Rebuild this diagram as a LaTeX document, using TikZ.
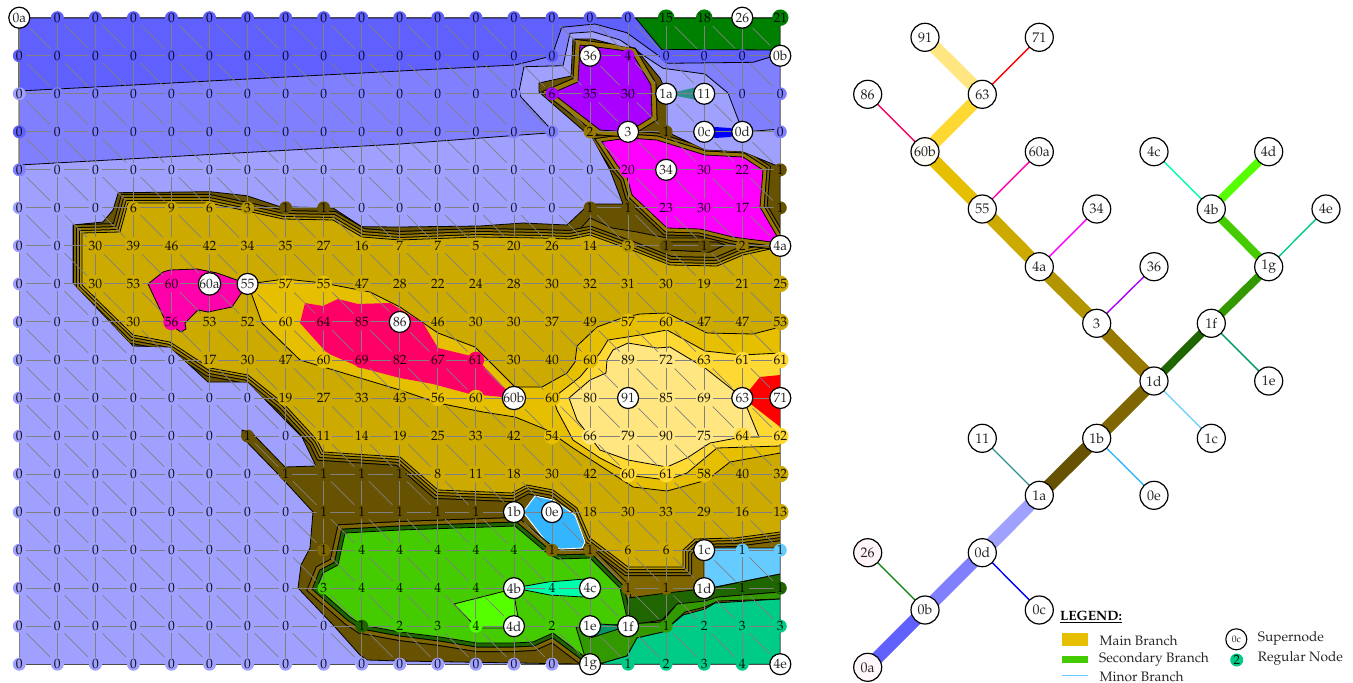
\documentclass[tikz,border=0pt]{standalone}
\usepackage[T1]{fontenc}
\usepackage{mathpazo}
\definecolor{ga}{HTML}{6060FF}\definecolor{gb}{HTML}{8080FF}\definecolor{gc}{HTML}{A0A0FF}
\definecolor{gd}{HTML}{665200}\definecolor{ge}{HTML}{806600}\definecolor{gf}{HTML}{997A00}
\definecolor{gh}{HTML}{B39500}\definecolor{gg}{HTML}{CCAA00}\definecolor{gi}{HTML}{E6BF00}
\definecolor{gj}{HTML}{FFD933}\definecolor{gk}{HTML}{FFE680}\definecolor{gm}{HTML}{FF00FF}
\definecolor{gp}{HTML}{AA00FF}\definecolor{gq}{HTML}{FF00AA}\definecolor{gr}{HTML}{FF0066}
\definecolor{gu}{HTML}{FF0000}\definecolor{gv}{HTML}{008000}\definecolor{gw}{HTML}{206600}
\definecolor{gx}{HTML}{339900}\definecolor{gy}{HTML}{44CC00}\definecolor{gz}{HTML}{55FF00}
\definecolor{gA}{HTML}{00FFAA}\definecolor{gB}{HTML}{00CC88}\definecolor{gC}{HTML}{66CCFF}
\definecolor{gD}{HTML}{33B5FF}\definecolor{gE}{HTML}{009966}\definecolor{gF}{HTML}{2F8F8F}
\definecolor{gG}{HTML}{0000FF}
\pgfdeclarelayer{bg}\pgfdeclarelayer{gridlayer}\pgfsetlayers{bg,gridlayer,main}
\tikzset{
  regnode/.style={circle,inner sep=0pt,minimum size=13pt,text opacity=0.9,font=\fontsize{13.5}{15}\selectfont},
  supnode/.style={circle,inner sep=0pt,minimum size=21pt,draw=black,line width=1.2pt,fill=white,text opacity=0.85,font=\fontsize{13.5}{15}\selectfont},
  treenode/.style={circle,inner sep=0pt,minimum size=28pt,draw=black,line width=1.2pt,fill=white,text opacity=0.85,font=\fontsize{14}{16}\selectfont},
  gridedge/.style={draw=black!50,line width=0.9pt},
  diagedge/.style={draw=black!50,line width=0.7pt,shorten >=3.5pt,shorten <=3.5pt},
  rim/.style={draw=black!70,line width=1.4pt},
  contour/.style={draw=black,line width=0.8pt},
  mainb/.style={line width=13pt},
  secb/.style={line width=8.3pt},
  minb/.style={line width=1.4pt},
  legtext/.style={anchor=west,inner sep=0pt,font=\fontsize{13.7}{15}\selectfont,text opacity=0.85},
}
\def\sss{s}
\newcommand{\gridrow}[2]{%
  \foreach \lab/\kk [count=\cc from 0] in {#2}{%
    \ifx\kk\sss
      \node[supnode] (n#1-\cc) at ({19.3+38.05*\cc},{17.7+38.03*#1}) {\lab};
    \else
      \node[regnode,fill=g\kk] (n#1-\cc) at ({19.3+38.05*\cc},{17.7+38.03*#1}) {\lab};
    \fi
  }%
}
\def\pathBtwo{(19,165) -- (400,144) -- (552,132.7) -- (548,126) -- (520.7,96.7) -- (519.3,90) -- (524,66.7) -- (563,65.7) -- (570,33.3) -- (593,31.7) -- (620,40) -- (663,68.3) -- (705,74) -- (728,93) -- (739,121.7) -- (743,132) -- (780.3,129) -- (780.3,18) -- (19,18) -- cycle}
\def\pathBone{(19,18) -- (780.3,18) -- (780.3,56) -- (771.7,56.7) -- (753,62.3) -- (666.7,63.3) -- (660,56.7) -- (626.7,32.7) -- (595,24) -- (561.7,27.3) -- (554,50) -- (552,56) -- (515,65) -- (400,71) -- (19,91) -- cycle}
\def\pathO{(118.3,192.7) -- (210,191.7) -- (246.7,195.7) -- (280,206.7) -- (333,208) -- (361.7,226.7) -- (400,227) -- (480,226) -- (523,223) -- (567,225) -- (585,208) -- (590,204) -- (623,204) -- (610,170) -- (592,137) -- (585,132) -- (539,92) -- (539,83) -- (571,76) -- (573,39) -- (593,39) -- (623,47) -- (635,48) -- (660,78) -- (667,94) -- (667,132) -- (705,150) -- (743,152) -- (775,165) -- (780.3,165) -- (780.3,664.2) -- (590,664.2) -- (400,661) -- (367,660) -- (360,655) -- (335,627) -- (298,588) -- (301,565) -- (310,548) -- (313,512) -- (279,475) -- (242,437) -- (242,430) -- (252,433) -- (285,467) -- (316,466) -- (302,437) -- (285,420) -- (248,382) -- (208,382) -- (170,347) -- (133,346) -- (73,283) -- (73,225) -- (103,222) -- (113,210) -- cycle}
\def\pathG{(128,203) -- (209,203) -- (247,211) -- (283,219) -- (333,220) -- (362,237) -- (400,240) -- (477,237) -- (540,238) -- (570,239) -- (590,235) -- (637,252) -- (670,265) -- (717,266) -- (743,255) -- (775,248) -- (790,246) -- (790,532) -- (780.3,532) -- (735,538) -- (695,539) -- (683,550) -- (683,567) -- (628,567) -- (590,538) -- (577,508) -- (553,490) -- (527,485) -- (512,493) -- (438,490) -- (400,457) -- (323,452) -- (317,440) -- (283,403) -- (248,375) -- (210,368) -- (170,342) -- (133,335) -- (82,285) -- (82,233) -- (120,232) -- cycle}
\def\pathQ{(590,540) -- (628,575) -- (683,575) -- (683,545) -- (704,538) -- (780.3,538) -- (780.3,548) -- (704,548) -- (704,590) -- (667,593) -- (628,598) -- (620,588) -- (590,560) -- cycle}
\def\pathN{(345,533) -- (400,530) -- (515,526) -- (547,553) -- (558,559) -- (590,558) -- (620,588) -- (628,622) -- (605,630) -- (585,657) -- (553,633) -- (533,642) -- (513,643) -- (477,643) -- (440,637) -- (400,632) -- (362,625) -- (350,617) -- (317,588) -- (323,573) -- (338,565) -- cycle}
\def\pathM{(601.7,141.7) -- (628,138) -- (657,140) -- (705,155) -- (743,157) -- (763,170) -- (760,207) -- (778,238) -- (772,242) -- (740,238) -- (733,237) -- (700,229) -- (667,228) -- (632,195) -- (627,177) -- (617,165) -- cycle}
\def\pathP{(552,93) -- (578,82) -- (580,45) -- (620,50) -- (632,53) -- (651,85) -- (652,117) -- (628,132) -- (600,130) -- cycle}
\def\pathHone{(248,284) -- (285,279) -- (323,283) -- (370,292) -- (400,307) -- (438,333) -- (475,347) -- (515,387) -- (542,387) -- (567,373) -- (575,362) -- (577,346) -- (597,327) -- (622,318) -- (640,314) -- (667,313) -- (707,333) -- (753,334) -- (780.3,327) -- (780.3,453) -- (730,462) -- (707,480) -- (667,491) -- (633,487) -- (573,448) -- (547,430) -- (515,417) -- (483,412) -- (438,403) -- (400,390) -- (300,360) -- (262,323) -- cycle}
\def\pathHtwo{(553,398) -- (580,377) -- (600,353) -- (608,340) -- (640,335) -- (667,330) -- (705,351) -- (742,355) -- (780.3,353) -- (780.3,446) -- (717,448) -- (687,473) -- (667,480) -- (635,476) -- (600,458) -- (573,440) -- (557,410) -- cycle}
\def\pathHthree{(569,398) -- (590,380) -- (606,373) -- (607,360) -- (613,350) -- (628,343) -- (657,348) -- (670,347) -- (705,368) -- (743,398) -- (759,437) -- (742,437) -- (710,443) -- (687,458) -- (667,467) -- (628,460) -- (600,450) -- (577,420) -- cycle}
\begin{document}
\begin{tikzpicture}[x=1pt,y=-1pt]
\useasboundingbox (0,0) rectangle (1353,683);
%% regions
\begin{pgfonlayer}{bg}
\fill[gc] (19.3,17.7) rectangle (780.3,664.2);
\filldraw[fill=gb,contour] \pathBtwo;
\filldraw[fill=ga,contour] \pathBone;
\filldraw[fill=gv,contour] (635.7,18) -- (780.3,18) -- (780.3,50) -- (661.7,49.5) -- cycle;
\filldraw[fill=gF,draw=none] (667,94) -- (697,87) -- (705,87) -- (705,100) -- (697,100) -- cycle;
\filldraw[fill=gG,draw=none] (705,132) -- (715,127) -- (730,128) -- (743,132) -- (730,137) -- (715,138) -- cycle;
\filldraw[fill=gd,contour] \pathO;
\begin{scope}
\clip \pathO;
\fill[ge] \pathQ;
% olive saddle and dark eye under the 4a branch
\filldraw[fill=ge,contour] (572,238) -- (590,218) -- (612,228) -- (637,232) -- (667,238) -- (717,238) -- (745,235) -- (780,244) -- (743,258) -- (717,270) -- (670,268) -- (637,255) -- (590,238) -- cycle;
\filldraw[fill=gd,contour] (663,242) -- (717,242) -- (725,245) -- (710,252) -- (667,250) -- cycle;
% gold body with bands
\draw[black,line width=18pt] \pathG;
\draw[ge,line width=16pt] \pathG;
\draw[black,line width=12pt] \pathG;
\draw[gf,line width=10pt] \pathG;
\draw[black,line width=6pt] \pathG;
\draw[gh,line width=4pt] \pathG;
\filldraw[fill=gd,contour] (663,242) -- (717,242) -- (725,245) -- (710,252) -- (667,250) -- cycle;
\filldraw[fill=gg,contour] \pathG;
% 0e patch
\filldraw[fill=gD,draw=white,line width=0.9pt] (535,496) -- (553,500) -- (575,515) -- (585,542) -- (582,548) -- (560,549) -- (548,544) -- (523,512) -- cycle;
% green body
\draw[black,line width=18pt] \pathN;
\draw[ge,line width=16pt] \pathN;
\draw[black,line width=9pt] \pathN;
\draw[gw,line width=7pt] \pathN;
\filldraw[fill=gy,contour] \pathN;
\filldraw[fill=gz,contour] (454,604) -- (513,589) -- (518,617) -- (514,628) -- (477,628) -- cycle;
\filldraw[fill=gA,contour] (514,588) -- (548,582) -- (585,579) -- (590,588) -- (583,597) -- (550,595) -- cycle;
% lower right
\filldraw[fill=gC,contour] (704,548) -- (780.3,548) -- (780.3,574) -- (715,587) -- (704,590) -- cycle;
\filldraw[fill=gw,contour] (628,598) -- (667,593) -- (693,590) -- (717,587) -- (780.3,574) -- (780.3,592) -- (720,597) -- (705,602) -- (677,604) -- (662,620) -- (630,625) -- cycle;
\filldraw[fill=gx,contour] (576,627) -- (628,624) -- (662,622) -- (677,604) -- (705,601) -- (718,597) -- (780.3,592) -- (780.3,599) -- (718,601) -- (705,607) -- (685,612) -- (663,632) -- (637,638) -- (627,656) -- (603,663) -- (590,664.2) -- (585,657) -- cycle;
\filldraw[fill=gB,contour] (603,663) -- (627,656) -- (637,638) -- (663,632) -- (683,615) -- (705,609) -- (715,603) -- (780.3,599) -- (780.3,664.2) -- (600,664.2) -- cycle;
\filldraw[fill=gE,contour] (590,638) -- (600,624) -- (628,626) -- cycle;
% magenta with bands
\draw[black,line width=15pt] \pathM;
\draw[ge,line width=13pt] \pathM;
\draw[black,line width=9pt] \pathM;
\draw[gf,line width=7pt] \pathM;
\filldraw[fill=gm,contour] \pathM;
% purple with bands
\draw[black,line width=11pt] \pathP;
\draw[gf,line width=9pt] \pathP;
\filldraw[fill=gp,contour] \pathP;
\end{scope}
% main nested
\filldraw[fill=gi,contour] \pathHone;
\filldraw[fill=gj,contour] \pathHtwo;
\filldraw[fill=gk,contour] \pathHthree;
\fill[gu] (743,398) -- (760,377) -- (780.3,375) -- (780.3,427) -- cycle;
\fill[gr] (305,303) -- (323,306) -- (338,299) -- (358,304) -- (390,303) -- (423,323) -- (438,348) -- (475,357) -- (514,398) -- (470,394) -- (433,384) -- (400,378) -- (362,368) -- (327,353) -- (300,323) -- cycle;
\filldraw[fill=gq,contour] (148,284) -- (163,272) -- (170,270) -- (197,269) -- (217,273) -- (248,284) -- (240,295) -- (232,307) -- (208,312) -- (198,310) -- (185,323) -- (186,329) -- (181,332) -- (175,328) -- (167,328) -- (165,320) -- cycle;
\end{pgfonlayer}
%% grid nodes
\gridrow{0}{0a/s,0/a,0/a,0/a,0/a,0/a,0/a,0/a,0/a,0/a,0/a,0/a,0/a,0/a,0/a,0/a,0/a,15/v,18/v,26/s,21/v}
\gridrow{1}{0/a,0/a,0/a,0/a,0/a,0/a,0/a,0/a,0/a,0/a,0/a,0/a,0/a,0/a,0/a,36/s,4/p,0/a,0/a,0/a,0b/s}
\gridrow{2}{0/c,0/b,0/b,0/b,0/b,0/b,0/b,0/b,0/b,0/b,0/b,0/b,0/b,0/b,6/p,35/p,30/p,1a/s,11/s,0/b,0/b}
\gridrow{3}{0/a,0/b,0/b,0/b,0/b,0/b,0/b,0/b,0/b,0/b,0/b,0/b,0/b,0/b,0/b,2/f,3/s,1/d,0c/s,0d/s,0/b}
\gridrow{4}{0/b,0/c,0/c,0/c,0/c,0/c,0/c,0/c,0/c,0/c,0/c,0/c,0/c,0/c,0/c,0/c,20/m,34/s,30/m,22/m,1/d}
\gridrow{5}{0/c,0/c,0/c,6/g,9/g,6/g,3/h,1/d,1/d,0/c,0/c,0/c,0/c,0/c,0/c,1/d,1/d,23/m,30/m,17/m,1/d}
\gridrow{6}{0/c,0/c,30/g,39/g,46/g,42/g,34/g,35/g,27/g,16/g,7/g,7/g,5/g,20/g,26/g,14/g,3/h,1/d,1/d,2/f,4a/s}
\gridrow{7}{0/c,0/c,30/g,53/g,60/q,60a/s,55/s,57/i,55/i,47/g,28/g,22/g,24/g,28/g,30/g,32/g,31/g,30/g,19/g,21/g,25/g}
\gridrow{8}{0/c,0/c,0/c,30/g,56/q,53/g,52/g,60/i,64/r,85/r,86/s,46/g,30/g,30/g,37/g,49/g,57/i,60/i,47/g,47/g,53/g}
\gridrow{9}{0/c,0/c,0/c,0/c,0/c,17/g,30/g,47/g,60/i,69/r,82/r,67/r,61/r,30/g,40/g,60/i,89/k,72/k,63/j,61/j,61/j}
\gridrow{10}{0/c,0/c,0/c,0/c,0/c,0/c,0/c,19/g,27/g,33/g,43/g,56/i,60/i,60b/s,60/i,80/k,91/s,85/k,69/k,63/s,71/s}
\gridrow{11}{0/c,0/c,0/c,0/c,0/c,0/c,1/d,0/c,11/g,14/g,19/g,25/g,33/g,42/g,54/i,66/k,79/k,90/k,75/k,64/j,62/j}
\gridrow{12}{0/c,0/c,0/c,0/c,0/c,0/c,0/c,1/d,1/d,1/d,1/d,8/g,11/g,18/g,30/g,42/g,60/j,61/j,58/i,40/g,32/g}
\gridrow{13}{0/c,0/c,0/c,0/c,0/c,0/c,0/c,0/c,1/d,1/d,1/d,1/d,1/d,1b/s,0e/s,18/g,30/g,33/g,29/g,16/g,13/g}
\gridrow{14}{0/c,0/c,0/c,0/c,0/c,0/c,0/c,0/c,1/e,4/y,4/y,4/y,4/y,4/y,1/e,1/e,6/g,6/g,1c/s,1/C,1/C}
\gridrow{15}{0/c,0/c,0/c,0/c,0/c,0/c,0/c,0/c,3/y,4/y,4/y,4/y,4/y,4b/s,4/A,4c/s,1/e,1/e,1d/s,1/w,1/w}
\gridrow{16}{0/c,0/c,0/c,0/c,0/c,0/c,0/c,0/c,0/c,1/w,2/y,3/y,4/z,4d/s,2/y,1e/s,1f/s,1/x,2/B,3/B,3/B}
\gridrow{17}{0/c,0/c,0/c,0/c,0/c,0/c,0/c,0/c,0/c,0/c,0/c,0/c,0/c,0/c,0/c,1g/s,1/B,2/B,3/B,4/B,4e/s}
%% tree nodes
\foreach \nm/\tx/\ty in {91/925/37.3,71/1039.3/37.3,86/867.7/94.3,63/982.3/94.3,60a/1039.3/151.7,4c/1154/151.7,4d/1268.7/151.7,55/982.3/209,34/1096.7/209,4b/1211.3/209,4e/1326/209,4a/1039.3/266.7,36/1154/266.7,1g/1268.7/266.7,3/1096.7/323.3,1f/1211.3/323.3,1d/1154/381,1e/1268.7/381,1b/1096.7/438.3,1c/1211.3/438.3,11/982.3/438.3,1a/1039.3/495.3,0e/1154/495.3,0d/982.3/552.7,0b/925/610,0c/1039.3/610}
  {\node[treenode] (t\nm) at (\tx,\ty) {\nm};}
\node[treenode,fill=gi!3] (t60b) at (925,151.7) {60b};
\node[treenode,fill=gr!4] (t26) at (867.7,552.7) {26};
\node[treenode,fill=gr!3] (t0a) at (867.7,667.3) {0a};
%% grid edges
\begin{pgfonlayer}{gridlayer}
\foreach \r in {0,...,17}{\foreach \c [evaluate=\c as \d using int(\c+1)] in {0,...,19}{
  \ifnum\r=0 \path[rim] (n\r-\c) -- (n\r-\d);
  \else\ifnum\r=17 \path[rim] (n\r-\c) -- (n\r-\d);
  \else \path[gridedge] (n\r-\c) -- (n\r-\d);
  \fi\fi}}
\foreach \c in {0,...,20}{\foreach \r [evaluate=\r as \s using int(\r+1)] in {0,...,16}{
  \path[gridedge] (n\r-\c) -- (n\s-\c);}}
\foreach \r [evaluate=\r as \s using int(\r+1)] in {0,...,16}{\foreach \c [evaluate=\c as \d using int(\c+1)] in {0,...,19}{
  \path[diagedge] (n\r-\c) -- (n\s-\d);}}
%% tree edges
\draw[mainb,ga] (t0a.center) -- (t0b.center);
\draw[mainb,gb] (t0b.center) -- (t0d.center);
\draw[mainb,gc] (t0d.center) -- (t1a.center);
\draw[mainb,gd] (t1a.center) -- (t1b.center);
\draw[mainb,ge] (t1b.center) -- (t1d.center);
\draw[mainb,gf] (t1d.center) -- (t3.center);
\draw[mainb,gh] (t3.center) -- (t4a.center);
\draw[mainb,gg] (t4a.center) -- (t55.center);
\draw[mainb,gi] (t55.center) -- (t60b.center);
\draw[mainb,gj] (t60b.center) -- (t63.center);
\draw[mainb,gk] (t63.center) -- (t91.center);
\draw[secb,gw] (t1d.center) -- (t1f.center);
\draw[secb,gx] (t1f.center) -- (t1g.center);
\draw[secb,gy] (t1g.center) -- (t4b.center);
\draw[secb,gz] (t4b.center) -- (t4d.center);
\draw[minb,gv] (t0b.center) -- (t26.center);
\draw[minb,gG] (t0d.center) -- (t0c.center);
\draw[minb,gF] (t1a.center) -- (t11.center);
\draw[minb,gD] (t1b.center) -- (t0e.center);
\draw[minb,gC] (t1d.center) -- (t1c.center);
\draw[minb,gE] (t1f.center) -- (t1e.center);
\draw[minb,gB] (t1g.center) -- (t4e.center);
\draw[minb,gA] (t4b.center) -- (t4c.center);
\draw[minb,gp] (t3.center) -- (t36.center);
\draw[minb,gm] (t4a.center) -- (t34.center);
\draw[minb,gq] (t55.center) -- (t60a.center);
\draw[minb,gr] (t60b.center) -- (t86.center);
\draw[minb,gu] (t63.center) -- (t71.center);
\end{pgfonlayer}
%% legend
\node[anchor=west,inner sep=0pt,font=\fontsize{13.5}{15}\selectfont\bfseries] (legtitle) at (1060,617) {\underline{LEGEND:}};
\node[fill=gi,inner sep=0pt,minimum width=26.6pt,minimum height=12.4pt] (swA) at (1075,639.5) {};
\node[fill=gy,inner sep=0pt,minimum width=26.6pt,minimum height=7.6pt] (swB) at (1075,659.5) {};
\coordinate (swCa) at (1061.7,675.5);
\coordinate (swCb) at (1088.3,675.5);
\draw[line width=1.5pt,gC] (swCa) -- (swCb);
\node[legtext] (lgA) at (1099.5,640.5) {Main Branch};
\node[legtext] (lgB) at (1099,659) {Secondary Branch};
\node[legtext] (lgC) at (1099.5,676.5) {Minor Branch};
\node[circle,draw=black,line width=1.1pt,fill=white,inner sep=0pt,minimum size=21pt,font=\fontsize{9.5}{11}\selectfont,text opacity=0.85] (lgS) at (1236.3,639.3) {0c};
\node[regnode,fill=gB] (lgR) at (1236.7,660) {2};
\node[legtext] (lgD) at (1257.7,638.5) {Supernode};
\node[legtext] (lgE) at (1257.7,658.5) {Regular Node};
\end{tikzpicture}
\end{document}
